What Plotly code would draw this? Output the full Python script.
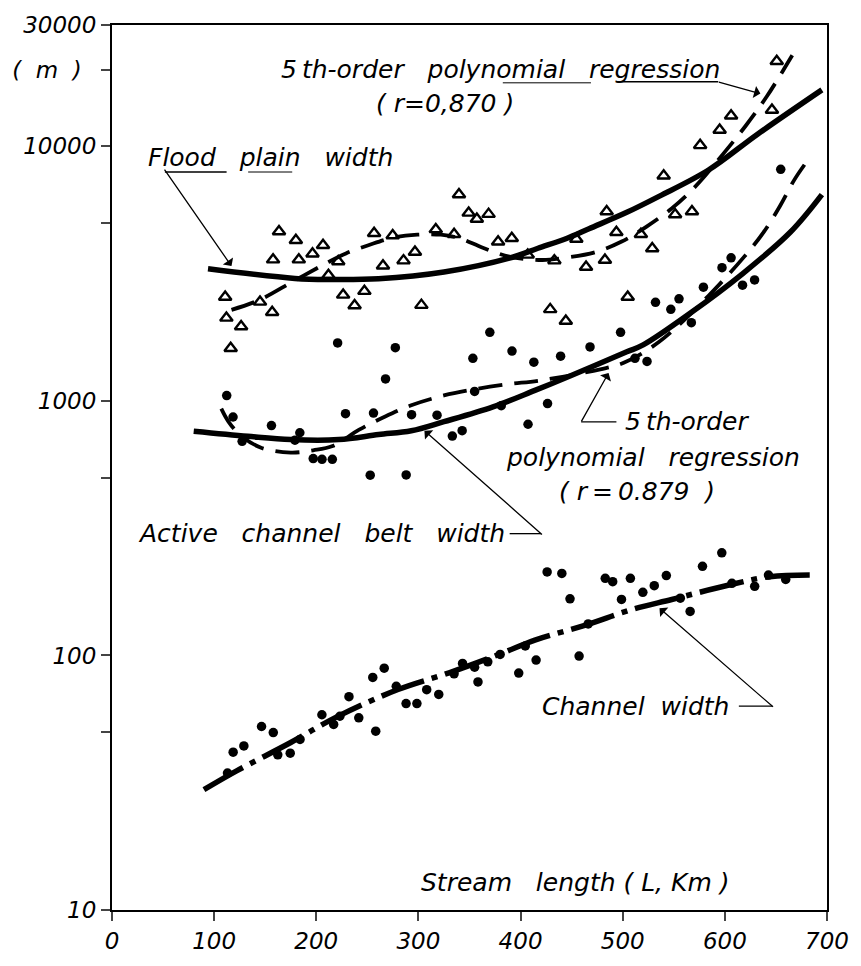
import plotly.graph_objects as go

# ---------------- data ----------------
# Flood plain width (triangles)
fp_x = [339.7, 349.2, 357.2, 368.7, 163.5, 180.0, 206.6, 196.3, 157.7, 182.9, 256.6, 274.8,
        317.0, 334.9, 378.0, 391.4, 407.0, 296.6, 285.4, 265.3, 221.5, 211.9, 110.8, 144.9,
        156.8, 226.3, 247.1, 237.5, 302.9, 112.0, 126.4, 116.2, 484.3, 567.8, 551.3, 454.6,
        493.8, 517.8, 433.1, 464.1, 482.6, 528.9, 504.9, 429.0, 444.3, 650.8, 646.1, 606.1,
        594.9, 575.8, 540.1]
fp_y = [6470, 5480, 5190, 5420, 4630, 4280, 4090, 3790, 3590, 3590, 4560, 4470,
        4720, 4520, 4220, 4360, 3750, 3850, 3560, 3400, 3530, 3120, 2560, 2450,
        2230, 2610, 2700, 2370, 2380, 2120, 1960, 1610, 5550, 5550, 5400, 4330,
        4600, 4520, 3560, 3360, 3580, 3970, 2560, 2290, 2060, 21600, 13900, 13200,
        11600, 10100, 7670]

# Active channel belt width (dots)
ab_x = [369.9, 220.9, 277.4, 353.3, 391.6, 413.0, 267.8, 112.3, 118.5, 156.1, 228.6, 256.0,
        293.3, 318.2, 355.0, 381.1, 407.3, 342.8, 333.2, 183.9, 179.1, 127.4, 197.0, 205.6,
        215.7, 252.8, 288.0, 606.1, 597.2, 579.0, 617.3, 629.1, 654.7, 532.1, 555.1, 547.1,
        567.2, 497.9, 468.0, 439.2, 512.0, 523.8, 426.4]
ab_y = [1860, 1690, 1620, 1470, 1570, 1420, 1220, 1050, 865, 800, 891, 896,
        883, 879, 1090, 958, 810, 764, 728, 750, 701, 694, 594, 590,
        590, 511, 512, 3650, 3340, 2800, 2850, 2990, 8130, 2440, 2520, 2290,
        2030, 1860, 1630, 1500, 1470, 1430, 977]

# Channel width (dots)
cw_x = [113.1, 118.6, 129.1, 146.4, 157.9, 162.3, 174.5, 184.1, 205.5, 217.0, 223.1, 232.0,
        241.6, 258.2, 255.3, 266.5, 278.3, 287.9, 298.5, 308.1, 319.9, 334.9, 343.2, 355.0,
        358.3, 367.9, 380.0, 404.6, 398.2, 415.2, 457.3, 466.2, 448.4, 426.0, 440.4, 482.9,
        490.2, 507.5, 498.8, 519.7, 530.9, 542.7, 556.4, 566.0, 578.1, 597.0, 606.9, 629.2,
        642.7, 659.6]
cw_y = [34.5, 41.7, 44.1, 52.6, 49.8, 40.7, 41.3, 46.8, 58.5, 53.6, 57.7, 68.9,
        56.9, 50.4, 82.0, 89.1, 75.7, 64.7, 64.7, 73.4, 70.3, 84.7, 93.1, 89.9,
        78.7, 94.4, 101, 109, 85.3, 95.9, 99.5, 133, 167, 213, 210, 201,
        195, 201, 166, 177, 188, 206, 168, 149, 224, 253, 192, 187,
        207, 199]

# Fitted curves
fp_fit_x = [94, 179, 213, 261, 325, 389, 417, 445, 467, 504, 536, 584, 632, 695]
fp_fit_y = [3305, 3030, 3000, 3020, 3210, 3640, 3980, 4350, 4750, 5510, 6380, 8080, 11170, 16680]

fp_poly_x = [117, 144, 178, 210, 229, 251, 274, 299, 322, 341, 363, 389, 421, 441, 473, 499,
             523, 548, 571, 598, 621, 641, 666]
fp_poly_y = [2280, 2490, 2960, 3480, 3800, 4090, 4370, 4500, 4500, 4350, 4000, 3690, 3580,
             3640, 3840, 4230, 4830, 5710, 6950, 9310, 12140, 15700, 22800]

ab_fit_x = [80, 133, 175, 222, 261, 293, 325, 373, 414, 449, 504, 520, 568, 616, 664, 695]
ab_fit_y = [760, 726, 705, 705, 738, 764, 829, 948, 1100, 1256, 1560, 1660, 2240, 3130, 4600, 6470]

ab_poly_x = [107, 114, 125, 146, 175, 197, 216, 242, 267, 293, 325, 357, 389, 417, 478, 501,
             536, 584, 619, 638, 654, 668, 680]
ab_poly_y = [933, 830, 738, 655, 627, 640, 665, 771, 867, 962, 1051, 1115, 1166, 1200, 1331,
             1412, 1712, 2589, 3690, 4606, 5830, 7390, 8700]

cw_fit_x = [90, 122, 175, 220, 280, 330, 379, 414, 462, 510, 548, 606, 644, 690]
cw_fit_y = [29.7, 35.2, 45.5, 57.4, 73.5, 85.5, 101, 115, 131, 152, 166, 190, 204, 207]

x_ticks = [0, 100, 200, 300, 400, 500, 600, 700]
y_ticks = [10, 50, 100, 500, 1000, 5000, 10000, 20000, 30000]
y_tick_text = ["10", "", "100", "", "1000", "", "10000", "(\u00a0\u00a0m\u00a0\u00a0)\u00a0\u00a0", "30000"]

# ---------------- figure ----------------
FONT = "DejaVu Sans"
fig = go.Figure()

fig.add_trace(go.Scatter(x=fp_fit_x, y=fp_fit_y, mode="lines", line=dict(color="black", width=5.5, shape="spline"),
                         hoverinfo="skip"))
fig.add_trace(go.Scatter(x=fp_poly_x, y=fp_poly_y, mode="lines",
                         line=dict(color="black", width=3.8, dash="24px,12px", shape="spline"), hoverinfo="skip"))
fig.add_trace(go.Scatter(x=ab_fit_x, y=ab_fit_y, mode="lines", line=dict(color="black", width=5.5, shape="spline"),
                         hoverinfo="skip"))
fig.add_trace(go.Scatter(x=ab_poly_x, y=ab_poly_y, mode="lines",
                         line=dict(color="black", width=3.8, dash="24px,12px", shape="spline"), hoverinfo="skip"))
fig.add_trace(go.Scatter(x=cw_fit_x, y=cw_fit_y, mode="lines",
                         line=dict(color="black", width=5.5, dash="45px,8px,6px,8px", shape="spline"), hoverinfo="skip"))

fig.add_trace(go.Scatter(x=fp_x, y=fp_y, mode="markers",
                         marker=dict(symbol="triangle-up-open", size=11, color="black", line=dict(width=2.4, color="black"))))
fig.add_trace(go.Scatter(x=ab_x, y=ab_y, mode="markers",
                         marker=dict(symbol="circle", size=9.5, color="black")))
fig.add_trace(go.Scatter(x=cw_x, y=cw_y, mode="markers",
                         marker=dict(symbol="circle", size=9.5, color="black")))

L, R, T, B = 108, 838, 22, 925
W, H = 861, 966


def px(x):
    return (x - L) / (R - L)


def py(y):
    return (B - y) / (B - T)


S3 = "\u00a0\u00a0\u00a0"
S2 = "\u00a0\u00a0"
tfont = dict(family=FONT, size=25, color="black", style="italic")
texts = [
    ("5\u2009th-order" + S3 + "polynomial" + S3 + "regression", 278, 67),
    ("(\u00a0r=0,870\u00a0)", 375, 102),
    ("Flood" + S3 + "plain" + S3 + "width", 143, 157),
    ("5\u2009th-order", 630, 427),
    ("polynomial" + S3 + "regression", 508, 463),
    ("(\u00a0r\u2009=\u20090.879" + S2 + ")", 562, 498),
    ("Active" + S3 + "channel" + S3 + "belt" + S3 + "width", 133, 541),
    ("Channel" + S2 + "width", 545, 717),
    ("Stream" + S3 + "length\u00a0(\u00a0L,\u00a0Km\u00a0)", 421, 897),
]
ann = []
for t, x, y in texts:
    ann.append(dict(text=t, x=px(x), y=py(y), xref="paper", yref="paper", xanchor="left",
                    yanchor="middle", showarrow=False, font=tfont))

arrows = [
    # tip (x, y), tail (x, y)
    ((230, 268), (162, 170)),
    ((770, 92), (727, 80)),
    ((615, 377), (587, 427)),
    ((427, 436), (546, 541)),
    ((667, 617), (782, 717)),
]
for (tx, ty), (sx, sy) in arrows:
    ann.append(dict(text="", x=px(tx), y=py(ty), xref="paper", yref="paper", showarrow=True,
                    ax=sx - tx, ay=sy - ty, arrowhead=1, arrowsize=1.6, arrowwidth=1.3,
                    arrowcolor="black"))

seg = [
    (162, 172, 225, 172, 1.6),
    (247, 172, 292, 172, 1.0),
    (507, 81, 597, 81, 1.0),
    (623, 80, 727, 80, 1.5),
    (587, 427, 623, 427, 1.3),
    (514, 541, 546, 541, 1.3),
    (748, 717, 782, 717, 1.3),
]
shapes = []
for x0, y0, x1, y1, w in seg:
    shapes.append(dict(type="line", xref="paper", yref="paper", x0=px(x0), y0=py(y0), x1=px(x1), y1=py(y1),
                       line=dict(color="black", width=w)))

fig.update_layout(
    width=W, height=H,
    margin=dict(l=L, r=W - R, t=T, b=H - B),
    paper_bgcolor="white", plot_bgcolor="white",
    showlegend=False,
    annotations=ann, shapes=shapes,
    font=dict(family=FONT, color="black"),
)
fig.update_xaxes(range=[0, 700], tickvals=x_ticks, ticks="outside", ticklen=9, tickwidth=2,
                 showline=True, linewidth=2, linecolor="black", mirror=True, showgrid=False,
                 zeroline=False, tickfont=dict(family=FONT, size=23, color="black", style="italic"))
fig.update_yaxes(type="log", range=[1, 4.4771], tickvals=y_ticks, ticktext=y_tick_text,
                 ticks="outside", ticklen=9, tickwidth=2, showline=True, linewidth=2,
                 linecolor="black", mirror=True, showgrid=False, zeroline=False,
                 tickfont=dict(family=FONT, size=23, color="black", style="italic"))

fig.write_html("out.html")
